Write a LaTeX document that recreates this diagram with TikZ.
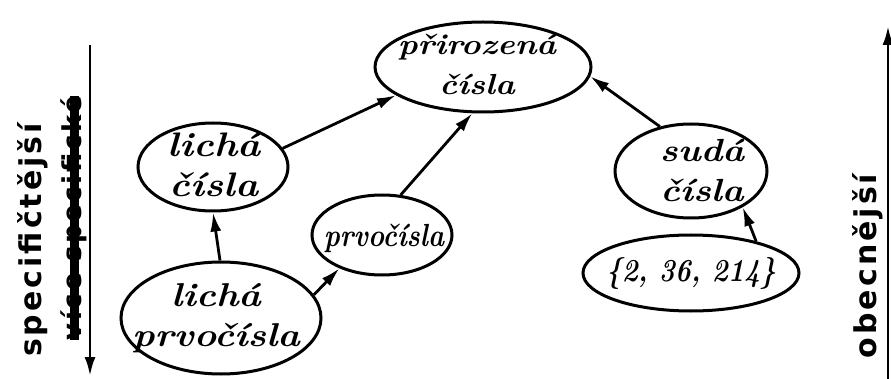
\documentclass[tikz,border=0pt]{standalone}
\usepackage{fontspec}
\usetikzlibrary{shapes.geometric,arrows.meta}
\newfontfamily\axisfont[LetterSpace=10]{DejaVu Sans Bold}
\newfontfamily\hand[FakeStretch=1.15]{lmroman10-bolditalic.otf}
\newfontfamily\handnarrow[FakeStretch=0.85]{lmroman10-bolditalic.otf}
\begin{document}
\begin{tikzpicture}[x=1pt,y=-1pt,
  blob/.style={draw,ellipse,line width=3pt,inner sep=0pt},
  lbl/.style={align=center,inner sep=0pt},
  axlbl/.style={font=\fontsize{30}{34}\selectfont\axisfont,rotate=90,inner sep=0pt},
  arr/.style={line width=2.8pt,-{Latex[length=19pt,width=11pt]}}]
\useasboundingbox (0,0) rectangle (891,379);
% ellipses
\node[blob,minimum width=216pt,minimum height=90pt] (pz) at (483,67) {};
\node[blob,minimum width=150pt,minimum height=88pt] (lc) at (213,167) {};
\node[blob,minimum width=152pt,minimum height=94pt] (sc) at (691,171) {};
\node[blob,minimum width=216pt,minimum height=76pt] (ss) at (691,273) {};
\node[blob,minimum width=140pt,minimum height=80pt] (pc) at (382,235) {};
\node[blob,minimum width=200pt,minimum height=112pt] (lp) at (221,318) {};
% labels
\node[lbl,font=\fontsize{29}{40}\selectfont\hand] (pzt) at (477,64) {přirozená\\čísla};
\node[lbl,font=\fontsize{34}{40}\selectfont\hand] (lct) at (214,165) {lichá\\čísla};
\node[lbl,font=\fontsize{32}{40}\selectfont\hand] (sct) at (702,170) {sudá\\čísla};
\node[lbl,font=\fontsize{32}{40}\selectfont\handnarrow] (sst) at (691,274) {\{2, 36, 214\}};
\node[lbl,font=\fontsize{32}{40}\selectfont\handnarrow] (pct) at (384,238) {prvočísla};
\node[lbl,font=\fontsize{33}{40}\selectfont\hand] (lpt) at (216,318) {lichá\\prvočísla};
% arrows
\draw[arr] (lc.15) -- (pz.198);
\draw[arr] (pc.65) -- (pz.257);
\draw[arr] (sc.125) -- (pz.355);
\draw[arr] (ss.26) -- (sc.325);
\draw[arr] (lp.91) -- (lc.270);
\draw[arr] (lp.14) -- (pc.218);
% axes
\coordinate (la) at (90,45);
\coordinate (lb) at (90,376);
\draw[arr] (la) -- (lb);
\coordinate (ra) at (888,379);
\coordinate (rb) at (888,26);
\draw[arr] (ra) -- (rb);
\node[axlbl] (spec) at (33,240) {specifičtější};
\node[axlbl,font=\fontsize{26}{30}\selectfont\axisfont] (cross) at (74,218) {více specifické};
\draw[line width=9pt] (cross.west) -- (cross.east);
\node[axlbl] (obec) at (868,266) {obecnější};
\end{tikzpicture}
\end{document}
